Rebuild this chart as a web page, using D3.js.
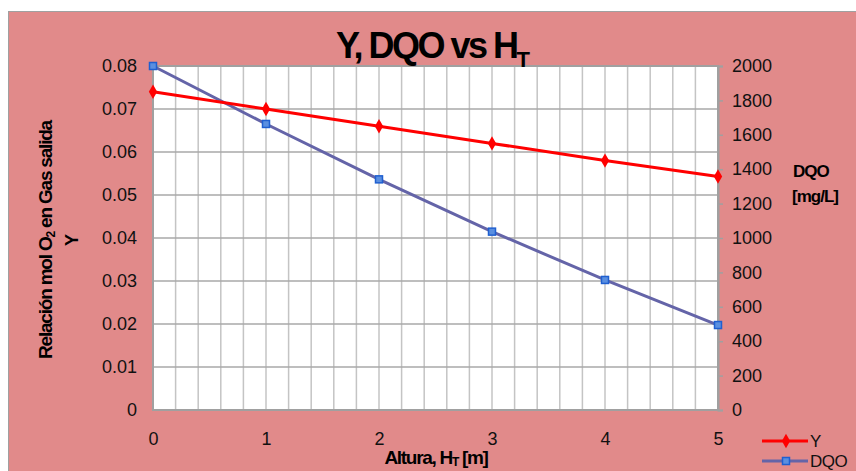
<!DOCTYPE html>
<html><head><meta charset="utf-8">
<script src="https://cdn.jsdelivr.net/npm/d3@7"></script>
<style>
html,body{margin:0;padding:0;background:#fff;}
svg{display:block;font-family:"Liberation Sans",Arial,sans-serif;}
</style></head>
<body><svg id="c" width="856" height="471"></svg>
<script>
const heights = [0, 1, 2, 3, 4, 5];
const yValues = [0.074, 0.070, 0.066, 0.062, 0.058, 0.0543];
const dqoValues = [2000, 1663, 1341, 1037, 756, 494];
const xTicks = [0, 1, 2, 3, 4, 5];
const leftTicks = [0, 0.01, 0.02, 0.03, 0.04, 0.05, 0.06, 0.07, 0.08];
const rightTicks = [0, 200, 400, 600, 800, 1000, 1200, 1400, 1600, 1800, 2000];

const svg = d3.select("#c");
const L = 153, R = 718, T = 66, B = 410;

svg.append("rect").attr("x", 8.5).attr("y", 11.5).attr("width", 860).attr("height", 470)
  .attr("fill", "#E18A8A").attr("stroke", "#A0A0A0").attr("stroke-width", 1);

const x = d3.scaleLinear().domain([0, 5]).range([L, R]);
const yL = d3.scaleLinear().domain([0, 0.08]).range([B, T]);
const yR = d3.scaleLinear().domain([0, 2000]).range([B, T]);

svg.append("rect").attr("x", L).attr("y", T).attr("width", R - L).attr("height", B - T).attr("fill", "#fff");

// vertical gridlines every 0.2
const vgrid = d3.range(1, 25).map(i => i * 0.2);
svg.append("g").selectAll("line").data(vgrid).join("line")
  .attr("x1", d => x(d)).attr("x2", d => x(d)).attr("y1", T).attr("y2", B)
  .attr("stroke", "#C4C4C4").attr("stroke-width", 1.5);
// horizontal gridlines
svg.append("g").selectAll("line").data(leftTicks.slice(1)).join("line")
  .attr("x1", L).attr("x2", R).attr("y1", d => yL(d)).attr("y2", d => yL(d))
  .attr("stroke", "#A8A8A8").attr("stroke-width", 1.5);

// plot border
svg.append("rect").attr("x", L).attr("y", T).attr("width", R - L).attr("height", B - T)
  .attr("fill", "none").attr("stroke", "#A0A0A0").attr("stroke-width", 2);

const tickFont = "Liberation Sans, Arial, sans-serif";
// left axis
const gl = svg.append("g").attr("transform", `translate(${L},0)`)
  .call(d3.axisLeft(yL).tickValues(leftTicks).tickSize(0).tickPadding(16)
    .tickFormat(d => d === 0 ? "0" : d3.format(".2f")(d)));
gl.select(".domain").remove();
gl.selectAll("text").attr("font-size", 18).attr("fill", "#111").attr("font-family", tickFont);

// right axis
const gr = svg.append("g").attr("transform", `translate(${R},0)`)
  .call(d3.axisRight(yR).tickValues(rightTicks).tickSize(5).tickPadding(9).tickFormat(d3.format("d")));
gr.select(".domain").attr("stroke", "#A0A0A0").attr("stroke-width", 2);
gr.selectAll(".tick line").attr("stroke", "#A0A0A0").attr("stroke-width", 1.5);
gr.selectAll("text").attr("font-size", 18).attr("fill", "#111").attr("font-family", tickFont);

// bottom axis
const gb = svg.append("g").attr("transform", `translate(0,${B})`)
  .call(d3.axisBottom(x).tickValues(xTicks).tickSize(0).tickPadding(22).tickFormat(d3.format("d")));
gb.select(".domain").remove();
gb.selectAll("text").attr("font-size", 18).attr("fill", "#111").attr("font-family", tickFont);

// lines
const data = heights.map((h, i) => ({h, y: yValues[i], q: dqoValues[i]}));
svg.append("path").datum(data)
  .attr("d", d3.line().x(d => x(d.h)).y(d => yR(d.q)))
  .attr("fill", "none").attr("stroke", "#6464A8").attr("stroke-width", 3);
svg.append("path").datum(data)
  .attr("d", d3.line().x(d => x(d.h)).y(d => yL(d.y)))
  .attr("fill", "none").attr("stroke", "#FF0000").attr("stroke-width", 3);

const diamond = d3.symbol().type(d3.symbolDiamond).size(60);
svg.append("g").selectAll("path").data(data).join("path")
  .attr("d", diamond).attr("transform", d => `translate(${x(d.h)},${yL(d.y)})`)
  .attr("fill", "#FF0000");
svg.append("g").selectAll("rect").data(data).join("rect")
  .attr("x", d => x(d.h) - 3.5).attr("y", d => yR(d.q) - 3.5).attr("width", 7).attr("height", 7)
  .attr("fill", "#5A8FE0").attr("stroke", "#1F5FD0").attr("stroke-width", 1.5);

// title
const title = svg.append("text").attr("x", 336).attr("y", 58)
  .attr("font-size", 36).attr("font-weight", "bold").attr("letter-spacing", -2.5).attr("fill", "#000");
title.append("tspan").text("Y, DQO vs H");
title.append("tspan").attr("dy", 9).attr("font-size", 22).attr("letter-spacing", 0).text("T");

// x axis title
const xt = svg.append("text").attr("x", 436).attr("y", 464).attr("text-anchor", "middle")
  .attr("font-size", 19).attr("font-weight", "bold").attr("letter-spacing", -1.3).attr("fill", "#000");
xt.append("tspan").text("Altura, H");
xt.append("tspan").attr("font-size", 12).attr("dy", 2).text("T");
xt.append("tspan").attr("dy", -2).text(" [m]");

// left axis title
const lt = svg.append("text").attr("transform", "translate(52,240) rotate(-90)").attr("text-anchor", "middle")
  .attr("font-size", 19).attr("font-weight", "bold").attr("letter-spacing", -1.2).attr("fill", "#000");
lt.append("tspan").text("Relación mol O");
lt.append("tspan").attr("font-size", 12).attr("dy", 3).text("2");
lt.append("tspan").attr("dy", -3).text(" en Gas salida");
svg.append("text").attr("transform", "translate(78,240) rotate(-90)").attr("text-anchor", "middle")
  .attr("font-size", 18).attr("font-weight", "bold").attr("fill", "#000").text("Y");

// right axis title
svg.append("text").attr("x", 793).attr("y", 177).attr("font-size", 17).attr("font-weight", "bold")
  .attr("letter-spacing", -1).attr("fill", "#000").text("DQO");
svg.append("text").attr("x", 792).attr("y", 202).attr("font-size", 17).attr("font-weight", "bold")
  .attr("letter-spacing", -1).attr("fill", "#000").text("[mg/L]");

// legend
const leg = [
  {name: "Y", color: "#FF0000", y: 441, type: "d"},
  {name: "DQO", color: "#6464A8", y: 461, type: "s"}
];
leg.forEach(l => {
  svg.append("line").attr("x1", 762).attr("x2", 808).attr("y1", l.y).attr("y2", l.y)
    .attr("stroke", l.color).attr("stroke-width", 3);
  if (l.type === "d") {
    svg.append("path").attr("d", diamond).attr("transform", `translate(786,${l.y})`).attr("fill", "#FF0000");
  } else {
    svg.append("rect").attr("x", 782.5).attr("y", l.y - 3.5).attr("width", 7).attr("height", 7)
      .attr("fill", "#5A8FE0").attr("stroke", "#1F5FD0").attr("stroke-width", 1.5);
  }
  svg.append("text").attr("x", 810).attr("y", l.y + 6).attr("font-size", 17).attr("letter-spacing", -0.5)
    .attr("fill", "#111").text(l.name);
});
</script></body></html>
